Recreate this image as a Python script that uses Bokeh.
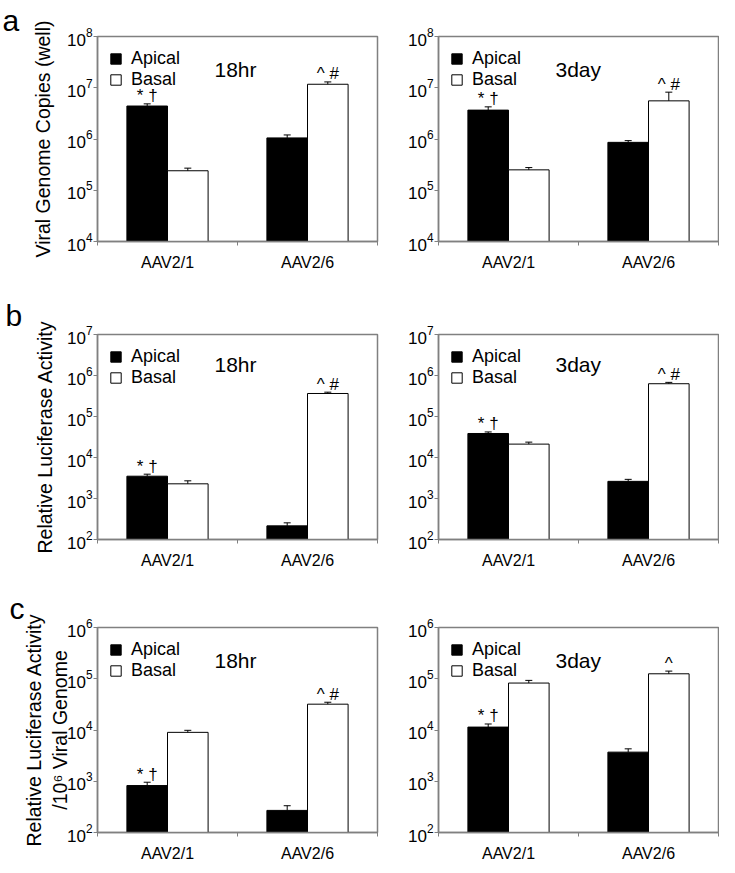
from bokeh.plotting import figure
from bokeh.models import (ColumnDataSource, Range1d, FixedTicker, LogTickFormatter,
                          Whisker, TeeHead, Label, Legend, LegendItem)
from bokeh.layouts import row, column
from bokeh.embed import file_html
from bokeh.resources import INLINE
from bokeh.core.properties import value

# ---------------- data ----------------
categories = ["AAV2/1", "AAV2/6"]
series_names = ["Apical", "Basal"]

# panel a: viral genome copies (well)
a18_apical = [4.4e6, 1.05e6]
a18_apical_err = [4.85e6, 1.2e6]
a18_basal = [2.4e5, 1.17e7]
a18_basal_err = [2.7e5, 1.3e7]
a3_apical = [3.66e6, 8.6e5]
a3_apical_err = [4.24e6, 9.3e5]
a3_basal = [2.5e5, 5.55e6]
a3_basal_err = [2.77e5, 8.2e6]

# panel b: relative luciferase activity
b18_apical = [3.5e3, 215]
b18_apical_err = [3.92e3, 255]
b18_basal = [2.28e3, 3.64e5]
b18_basal_err = [2.7e3, 3.92e5]
b3_apical = [3.85e4, 2.62e3]
b3_apical_err = [4.2e4, 2.93e3]
b3_basal = [2.12e4, 6.3e5]
b3_basal_err = [2.37e4, 6.8e5]

# panel c: relative luciferase activity / 10^6 viral genome
c18_apical = [824, 270]
c18_apical_err = [957, 333]
c18_basal = [9.0e3, 3.19e4]
c18_basal_err = [9.86e3, 3.48e4]
c3_apical = [1.14e4, 3.7e3]
c3_apical_err = [1.31e4, 4.29e3]
c3_basal = [8.24e4, 1.25e5]
c3_basal_err = [9.29e4, 1.41e5]

# significance marks
marks_apical = ["* \u2020", ""]
marks_basal = ["", "^ #"]
marks_basal_c3 = ["", "^"]

# axis ranges (exponents)
exp_a = (4, 8)
exp_b = (2, 7)
exp_c = (2, 6)

ylabel_a = "Viral Genome Copies (well)"
ylabel_b = "Relative Luciferase Activity"
ylabel_c = "Relative Luciferase Activity\n/10\u2076 Viral Genome"
time_labels = ["18hr", "3day"]
panel_letters = ["a", "b", "c"]

FONT = "Liberation Sans"
GRAY = "#808080"
BAR_W = 0.29


def make_panel(apical, apical_err, basal, basal_err, m_ap, m_ba, exps, time_label,
               left, fh, top_b, bottom_b, ylabel=None, ylabel_standoff=10,
               letter=None, letter_dx=0, letter_standoff=0, title_dy=27):
    ymin, ymax = 10.0 ** exps[0], 10.0 ** exps[1]
    centers = [i + 0.5 for i in range(len(categories))]
    bounds = [float(i) for i in range(len(categories) + 1)]
    p = figure(frame_width=280, frame_height=fh,
               x_range=Range1d(bounds[0], bounds[-1]), y_range=Range1d(ymin, ymax),
               y_axis_type="log", output_backend="svg", toolbar_location=None,
               min_border_left=97 if left else 51, min_border_right=10 if left else 1,
               min_border_top=top_b, min_border_bottom=bottom_b)
    p.grid.visible = False
    p.outline_line_color = GRAY
    p.outline_line_width = 1.5
    p.background_fill_color = "white"

    if letter:
        p.title.text = letter
        p.title.align = "left"
        p.title.offset = letter_dx
        p.title.standoff = letter_standoff
        p.title.text_font = FONT
        p.title.text_font_size = "30px"
        p.title.text_font_style = "normal"
        p.title.text_color = "black"
    else:
        p.title.visible = False

    src_ap = ColumnDataSource(dict(x=[c - BAR_W / 2 for c in centers], top=apical,
                                   err=apical_err, mark=m_ap))
    src_ba = ColumnDataSource(dict(x=[c + BAR_W / 2 for c in centers], top=basal,
                                   err=basal_err, mark=m_ba))
    r_ap = p.vbar(x="x", top="top", bottom=ymin, width=BAR_W, source=src_ap,
                  fill_color="black", line_color="black", line_width=1)
    r_ba = p.vbar(x="x", top="top", bottom=ymin, width=BAR_W, source=src_ba,
                  fill_color="white", line_color="black", line_width=1)
    for src in (src_ap, src_ba):
        w = Whisker(source=src, base="x", lower="top", upper="err",
                    line_color="black", line_width=1, lower_head=None,
                    upper_head=TeeHead(size=7, line_color="black", line_width=1),
                    level="overlay")
        p.add_layout(w)
        p.text(x="x", y="err", text="mark", source=src, text_align="center",
               text_baseline="alphabetic", y_offset=-8, text_font=value(FONT),
               text_font_size="17px", text_color="black")

    legend = Legend(items=[LegendItem(label=series_names[0], renderers=[r_ap]),
                           LegendItem(label=series_names[1], renderers=[r_ba])],
                    location="top_left", background_fill_alpha=0, border_line_alpha=0,
                    glyph_width=13, glyph_height=13, label_height=13,
                    label_text_font=FONT, label_text_font_size="18px",
                    label_text_color="black",
                    label_standoff=9, spacing=0, padding=4, margin=8)
    p.add_layout(legend)

    p.add_layout(Label(x=117, y=fh - title_dy, x_units="screen", y_units="screen",
                       text=time_label, text_font=FONT, text_font_size="21px",
                       text_font_style="normal",
                       text_baseline="middle", text_color="black"))

    xa = p.xaxis[0]
    xa.ticker = FixedTicker(ticks=centers, minor_ticks=bounds)
    xa.major_label_overrides = {c: lab for c, lab in zip(centers, categories)}
    xa.major_tick_out = 0
    xa.major_tick_in = 0
    xa.minor_tick_out = 4
    xa.minor_tick_in = 0
    xa.minor_tick_line_color = GRAY
    xa.axis_line_color = GRAY
    xa.axis_line_width = 1.5
    xa.major_label_standoff = 8
    xa.major_label_text_font = FONT
    xa.major_label_text_font_size = "16px"
    xa.major_label_text_color = "black"

    ya = p.yaxis[0]
    ya.ticker = FixedTicker(ticks=[10.0 ** k for k in range(exps[0], exps[1] + 1)])
    ya.formatter = LogTickFormatter()
    ya.major_tick_out = 4
    ya.major_tick_in = 0
    ya.minor_tick_out = 0
    ya.minor_tick_in = 0
    ya.major_tick_line_color = GRAY
    ya.axis_line_color = GRAY
    ya.axis_line_width = 1.5
    ya.major_label_standoff = 1
    ya.major_label_text_font = FONT
    ya.major_label_text_font_size = "17px"
    ya.major_label_text_color = "black"
    if ylabel:
        ya.axis_label = ylabel
        ya.axis_label_text_font = FONT
        ya.axis_label_text_font_size = "19.5px"
        ya.axis_label_text_font_style = "normal"
        ya.axis_label_text_color = "black"
        ya.axis_label_standoff = ylabel_standoff
    return p


pa1 = make_panel(a18_apical, a18_apical_err, a18_basal, a18_basal_err, marks_apical, marks_basal,
                 exp_a, time_labels[0], True, 205, 36, 51, ylabel_a, 10,
                 panel_letters[0], -95, 0, 33)
pa2 = make_panel(a3_apical, a3_apical_err, a3_basal, a3_basal_err, marks_apical, marks_basal,
                 exp_a, time_labels[1], False, 205, 36, 51, title_dy=33)
pb1 = make_panel(b18_apical, b18_apical_err, b18_basal, b18_basal_err, marks_apical, marks_basal,
                 exp_b, time_labels[0], True, 205, 42, 46, ylabel_b, 8,
                 panel_letters[1], -92, 6, 30)
pb2 = make_panel(b3_apical, b3_apical_err, b3_basal, b3_basal_err, marks_apical, marks_basal,
                 exp_b, time_labels[1], False, 205, 42, 46, title_dy=30)
pc1 = make_panel(c18_apical, c18_apical_err, c18_basal, c18_basal_err, marks_apical, marks_basal,
                 exp_c, time_labels[0], True, 205, 42, 25, ylabel_c, -7,
                 panel_letters[2], -88, 5, 33)
pc2 = make_panel(c3_apical, c3_apical_err, c3_basal, c3_basal_err, marks_apical, marks_basal_c3,
                 exp_c, time_labels[1], False, 205, 42, 25, title_dy=33)

layout = column(row(pa1, pa2, spacing=0), row(pb1, pb2, spacing=0),
                row(pc1, pc2, spacing=0), spacing=0)

open("out.html", "w").write(file_html(layout, INLINE))
